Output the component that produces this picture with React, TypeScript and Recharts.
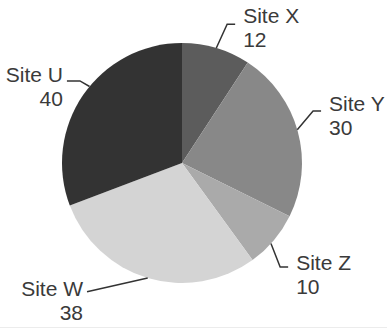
import React from 'react';
import { PieChart, Pie, Cell } from 'recharts';

const siteNames = ['Site X', 'Site Y', 'Site Z', 'Site W', 'Site U'];
const siteValues = [12, 30, 10, 38, 40];
const sliceColors = ['#5c5c5c', '#888888', '#aaaaaa', '#d4d4d4', '#333333'];

const data = siteNames.map((name, i) => ({ name, value: siteValues[i] }));

// label leader layout: edge angle offset, elbow angle offset, elbow extra radius, horizontal length, text side
const labelLayout = [
  { a0: 0, a1: -1.4, e: 26, h: 8, side: 1, dy: -1 },
  { a0: 0.9, a1: 6.4, e: 21, h: 8, side: 1, dy: 0 },
  { a0: -2, a1: -6.5, e: 23, h: 8, side: 1, dy: 3 },
  { a0: 0, a1: -19.8, e: 40, h: 0, side: -1, dy: 4 },
  { a0: -5, a1: -4.2, e: 11, h: -13, side: -1, dy: 1 },
];

const RAD = Math.PI / 180;
const polar = (cx: number, cy: number, r: number, a: number) => ({
  x: cx + r * Math.cos(-a * RAD),
  y: cy + r * Math.sin(-a * RAD),
});

const renderLabel = (props: any) => {
  const { cx, cy, midAngle, outerRadius, index, name, value } = props;
  const L = labelLayout[index];
  const p0 = polar(cx, cy, outerRadius, midAngle + L.a0);
  const p1 = polar(cx, cy, outerRadius + L.e, midAngle + L.a1);
  const p2 = { x: p1.x + L.h, y: p1.y };
  const tx = p2.x + (L.side > 0 ? 8 : -4);
  const ty = p2.y + L.dy;
  const anchor = L.side > 0 ? 'start' : 'end';
  return (
    <g key={`lbl-${index}`}>
      <polyline
        points={`${p0.x},${p0.y} ${p1.x},${p1.y} ${p2.x},${p2.y}`}
        fill="none"
        stroke="#333333"
        strokeWidth={1.5}
      />
      <text
        x={tx}
        y={ty}
        textAnchor={anchor}
        fill="#3a3a3a"
        fontSize={21}
        fontFamily="'Liberation Sans', Arial, sans-serif"
      >
        {name}
      </text>
      <text
        x={tx}
        y={ty + 24}
        textAnchor={anchor}
        fill="#3a3a3a"
        fontSize={21}
        fontFamily="'Liberation Sans', Arial, sans-serif"
      >
        {value}
      </text>
    </g>
  );
};

export default function App() {
  return (
    <div style={{ position: 'absolute', left: 0, top: 0, width: 387, height: 329, background: '#ffffff' }}>
      <PieChart width={387} height={329} margin={{ top: 0, right: 0, bottom: 0, left: 0 }}>
        <Pie
          data={data}
          dataKey="value"
          nameKey="name"
          cx={182}
          cy={163}
          outerRadius={120}
          startAngle={90}
          endAngle={-270}
          stroke="none"
          label={renderLabel}
          labelLine={false}
          isAnimationActive={false}
        >
          {data.map((d, i) => (
            <Cell key={d.name} fill={sliceColors[i]} />
          ))}
        </Pie>
      </PieChart>
      <div style={{ position: 'absolute', left: 0, top: 327, width: 387, height: 1, background: '#ececec' }} />
    </div>
  );
}
